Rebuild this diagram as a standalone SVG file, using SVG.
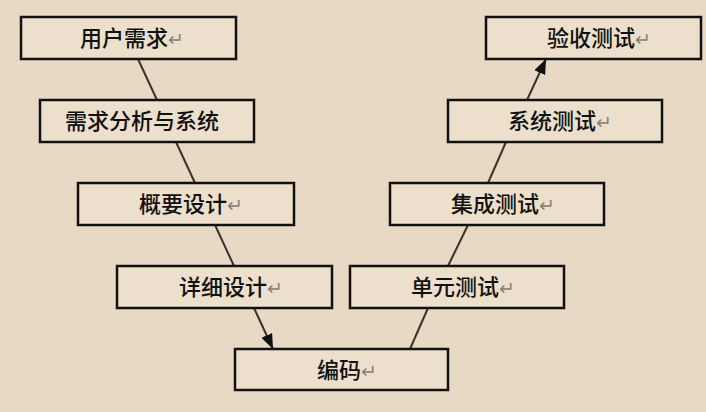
<svg xmlns="http://www.w3.org/2000/svg" width="706" height="412" viewBox="0 0 706 412">
<defs>
<style>
.box{fill:#ecdfcb;stroke:#111;stroke-width:2.5}
.t{font-family:"Noto Sans CJK SC","Liberation Sans",sans-serif;font-size:22px;font-weight:500;fill:#111}
.m{fill:#8a8077;font-size:19px;font-weight:400}
.c{stroke:#3a322b;stroke-width:2;fill:none}
</style>
<marker id="ah" viewBox="0 0 15 12" refX="15" refY="6" markerWidth="15" markerHeight="12" markerUnits="userSpaceOnUse" orient="auto">
<path d="M0,0 L15,6 L0,12 Z" fill="#111"/>
</marker>
</defs>
<rect width="706" height="412" fill="#e8d9c4"/>
<g id="connectors">
<line class="c" x1="138" y1="59" x2="157" y2="100"/>
<line class="c" x1="176" y1="142" x2="195" y2="183"/>
<line class="c" x1="215" y1="225" x2="234" y2="266"/>
<line class="c" x1="254" y1="308" x2="273" y2="349" marker-end="url(#ah)"/>
<line class="c" x1="410" y1="349" x2="428" y2="308"/>
<line class="c" x1="448" y1="266" x2="468" y2="225"/>
<line class="c" x1="488" y1="183" x2="506" y2="142"/>
<line class="c" x1="527" y1="100" x2="546" y2="59" marker-end="url(#ah)"/>
</g>
<g id="n1"><rect class="box" x="21" y="17" width="215" height="42"/><text class="t" x="80" y="46">用户需求<tspan class="m">↵</tspan></text></g>
<g id="n2"><rect class="box" x="40" y="100" width="214" height="42"/><text class="t" x="65" y="129">需求分析与系统</text></g>
<g id="n3"><rect class="box" x="78" y="183" width="216" height="42"/><text class="t" x="139" y="212">概要设计<tspan class="m">↵</tspan></text></g>
<g id="n4"><rect class="box" x="117" y="266" width="215" height="42"/><text class="t" x="179" y="295">详细设计<tspan class="m">↵</tspan></text></g>
<g id="n5"><rect class="box" x="235" y="349" width="213" height="41"/><text class="t" x="317" y="378">编码<tspan class="m">↵</tspan></text></g>
<g id="n6"><rect class="box" x="350" y="266" width="214" height="42"/><text class="t" x="411" y="295">单元测试<tspan class="m">↵</tspan></text></g>
<g id="n7"><rect class="box" x="390" y="183" width="214" height="42"/><text class="t" x="451" y="212">集成测试<tspan class="m">↵</tspan></text></g>
<g id="n8"><rect class="box" x="448" y="100" width="214" height="42"/><text class="t" x="508" y="129">系统测试<tspan class="m">↵</tspan></text></g>
<g id="n9"><rect class="box" x="486" y="17" width="215" height="42"/><text class="t" x="547" y="46">验收测试<tspan class="m">↵</tspan></text></g>
</svg>
